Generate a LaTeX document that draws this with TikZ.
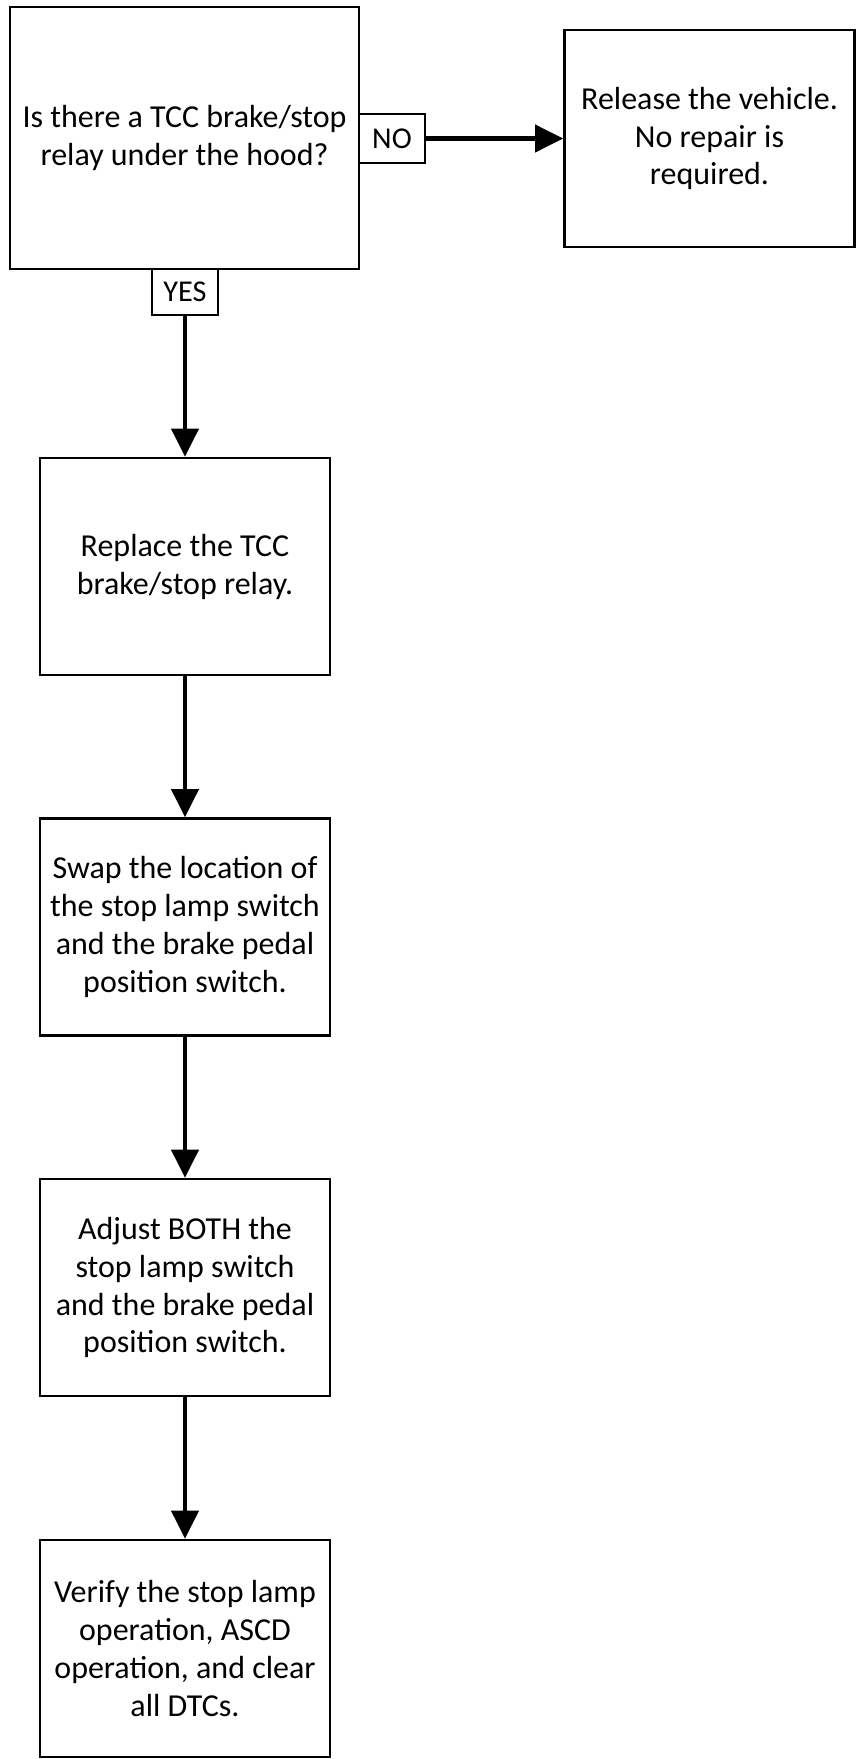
\documentclass[tikz,border=0pt]{standalone}
\usepackage{fontspec}
\setmainfont{Carlito}
\usetikzlibrary{arrows.meta}

\begin{document}
\begin{tikzpicture}[
  proc/.style={draw, line width=1.5pt, minimum width=5.8cm, minimum height=4.34cm, align=center, font=\fontsize{18.2}{21.6}\selectfont},
  yesno/.style={draw, fill=white, line width=1.4pt, minimum width=1.32cm, inner sep=1pt, align=center, font=\fontsize{17.2}{20}\selectfont},
  flow/.style={line width=2.3pt, -{Triangle[length=0.56cm,width=0.54cm]}}
]
  %全体の大きさ
  \useasboundingbox (0,0) rectangle (17.12,-35.18);

  %質問の箱
  \node[proc, minimum width=6.98cm, minimum height=5.24cm] (relayq) at (3.69,-2.76) {Is there a TCC brake/stop\\relay under the hood?};
  \node[proc] (release) at (14.19,-2.77) {Release the vehicle.\\No repair is\\required.};

  %作業の箱
  \node[proc] (replace) at (3.70,-11.33) {Replace the TCC\\brake/stop relay.};
  \node[proc] (swap) at (3.70,-18.54) {Swap the location of\\the stop lamp switch\\and the brake pedal\\position switch.};
  \node[proc] (adjust) at (3.70,-25.75) {Adjust BOTH the\\stop lamp switch\\and the brake pedal\\position switch.};
  \node[proc] (verify) at (3.70,-32.97) {Verify the stop lamp\\operation, ASCD\\operation, and clear\\all DTCs.};

  %YES/NOラベル
  \node[yesno, minimum height=0.98cm] (no) at (7.84,-2.77) {NO};
  \node[yesno, minimum height=0.92cm] (yes) at (3.70,-5.84) {YES};

  %矢印
  \draw[flow] (no.east) -- (release.west);
  \draw[flow] (yes.south) -- (replace.north);
  \draw[flow] (replace.south) -- (swap.north);
  \draw[flow] (swap.south) -- (adjust.north);
  \draw[flow] (adjust.south) -- (verify.north);
\end{tikzpicture}
\end{document}
